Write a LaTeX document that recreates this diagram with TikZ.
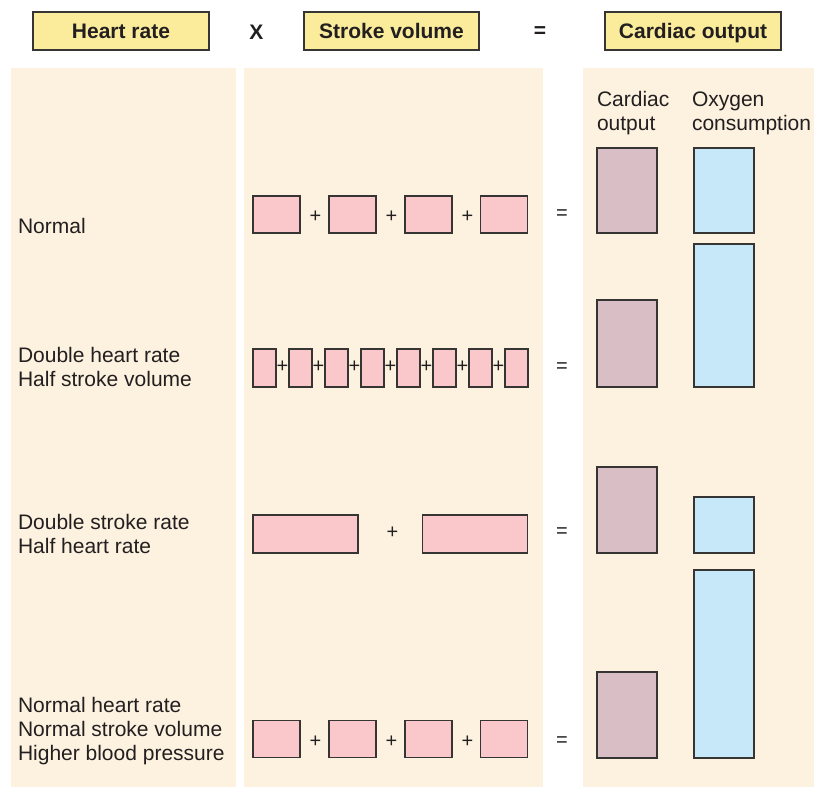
\documentclass[tikz,border=0pt]{standalone}
\usepackage{fontspec}
\setmainfont{Liberation Sans}
\definecolor{panelbg}{RGB}{252,242,223}
\definecolor{hdrfill}{RGB}{250,236,155}
\definecolor{pinkfill}{RGB}{250,200,202}
\definecolor{mauvefill}{RGB}{218,190,197}
\definecolor{bluefill}{RGB}{198,232,248}
\definecolor{edge}{RGB}{55,52,52}
\definecolor{txt}{RGB}{35,31,32}
\begin{document}
\begin{tikzpicture}[x=1pt,y=-1pt,
  every node/.style={inner sep=0pt, outer sep=0pt, text=txt},
  panel/.style={fill=panelbg, draw=none},
  hdr/.style={draw=edge, line width=1.2pt, fill=hdrfill, font=\fontsize{21}{24}\selectfont\bfseries, text height=15pt, text depth=0pt, minimum width=176pt, minimum height=38pt},
  bigop/.style={font=\fontsize{21}{24}\selectfont\bfseries},
  lbl/.style={anchor=base west, font=\fontsize{21}{24}\selectfont},
  op/.style={font=\fontsize{20}{22}\selectfont},
  pbox/.style={draw=edge, line width=1.3pt, fill=pinkfill},
  cbox/.style={draw=edge, line width=1.3pt, fill=mauvefill, minimum width=60pt},
  obox/.style={draw=edge, line width=1.3pt, fill=bluefill, minimum width=60pt},
  sq/.style={pbox, minimum width=47pt, minimum height=37pt},
  thin/.style={pbox, minimum width=23pt, minimum height=38pt},
  wide/.style={pbox, minimum width=105pt, minimum height=38pt}
]
\useasboundingbox (0,0) rectangle (814,789);
\fill[white] (0,0) rectangle (814,789);
% panels
\path[panel] (11,68) rectangle (236,787);
\path[panel] (244,68) rectangle (543,787);
\path[panel] (583,68) rectangle (814,787);
% header
\node[hdr] (hr) at (121,31) {Heart rate};
\node[bigop] (times) at (256.5,32) {X};
\node[hdr, minimum width=175pt] (sv) at (391.5,31) {Stroke volume};
\node[bigop] (eqh) at (540,32) {=};
\node[hdr] (co) at (693,31) {Cardiac output};
% column labels
\node[lbl] (colA1) at (597,107) {Cardiac};
\node[lbl] (colA2) at (597,131) {output};
\node[lbl] (colB1) at (692,107) {Oxygen};
\node[lbl] (colB2) at (692,131) {consumption};
% row labels
\node[lbl] (l1) at (18,233) {Normal};
\node[lbl] (l2a) at (18,362) {Double heart rate};
\node[lbl] (l2b) at (18,386) {Half stroke volume};
\node[lbl] (l3a) at (18,529.5) {Double stroke rate};
\node[lbl] (l3b) at (18,553.5) {Half heart rate};
\node[lbl] (l4a) at (18,712) {Normal heart rate};
\node[lbl] (l4b) at (18,736) {Normal stroke volume};
\node[lbl] (l4c) at (18,760) {Higher blood pressure};
% row 1
\node[sq] (r1a) at (276.5,214.5) {};
\node[sq] (r1b) at (352.5,214.5) {};
\node[sq] (r1c) at (428.5,214.5) {};
\node[sq] (r1d) at (504,214.5) {};
\node[op] (r1p1) at (315.5,216.5) {+};
\node[op] (r1p2) at (391.5,216.5) {+};
\node[op] (r1p3) at (467.5,216.5) {+};
\node[op] (r1eq) at (562,215) {=};
\node[cbox, minimum height=85pt] (r1co) at (627,190.5) {};
\node[obox, minimum height=85pt] (r1ox) at (724,190.5) {};
% row 2
\foreach \i in {0,...,7}{
  \node[thin] (r2b\i) at ({264.5+36*\i},368) {};
}
\foreach \i in {0,...,6}{
  \node[op] (r2p\i) at ({282.5+36*\i},367) {+};
}
\node[op] (r2eq) at (562,368) {=};
\node[cbox, minimum height=87pt] (r2co) at (627,343.5) {};
\node[obox, minimum height=143pt] (r2ox) at (724,315.5) {};
% row 3
\node[wide] (r3a) at (305.5,534) {};
\node[wide] (r3b) at (475,534) {};
\node[op] (r3p) at (392.5,533) {+};
\node[op] (r3eq) at (562,533) {=};
\node[cbox, minimum height=86pt] (r3co) at (627,510) {};
\node[obox, minimum height=56pt] (r3ox) at (724,525) {};
% row 4
\node[sq] (r4a) at (276.5,739) {};
\node[sq] (r4b) at (352.5,739) {};
\node[sq] (r4c) at (428.5,739) {};
\node[sq] (r4d) at (504,739) {};
\node[op] (r4p1) at (315.5,742) {+};
\node[op] (r4p2) at (391.5,742) {+};
\node[op] (r4p3) at (467.5,742) {+};
\node[op] (r4eq) at (562,742) {=};
\node[cbox, minimum height=86pt] (r4co) at (627,715) {};
\node[obox, minimum height=188pt] (r4ox) at (724,664) {};
\end{tikzpicture}
\end{document}
